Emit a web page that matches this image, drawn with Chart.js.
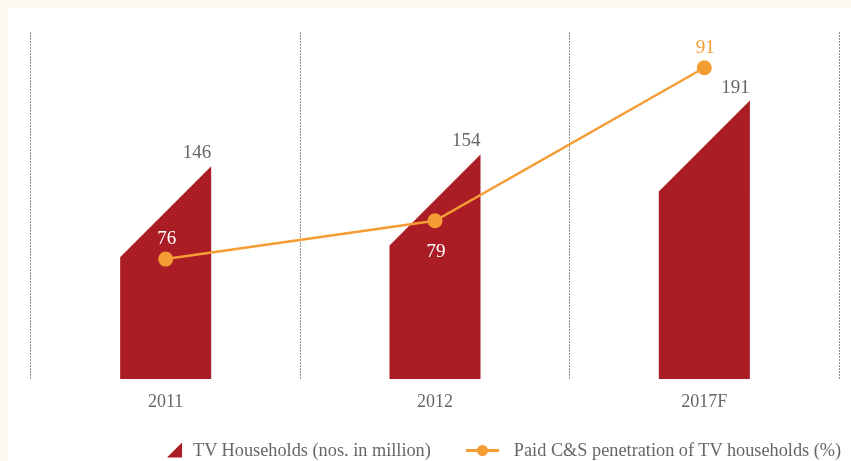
<!DOCTYPE html>
<html>
<head>
<meta charset="utf-8">
<script src="https://cdn.jsdelivr.net/npm/chart.js@4.4.0/dist/chart.umd.min.js"></script>
<style>
  html, body { margin: 0; padding: 0; }
  body { width: 851px; height: 461px; background: #fdf8f1; overflow: hidden; position: relative; font-family: 'Liberation Serif', serif; }
  #paper { position: absolute; left: 8px; top: 8px; right: 0; bottom: 0; background: #fff; }
  #wrap { position: absolute; left: 0; top: 0; width: 851px; height: 461px; }
  #legend { position: absolute; left: 167px; top: 439px; height: 22px; display: flex; align-items: center; font-size: 18.3px; color: #666; white-space: nowrap; }
  .item { display: flex; align-items: center; }
  .item + .item { margin-left: 35px; }
  .tri { width: 15px; height: 15px; margin-right: 11px; clip-path: polygon(100% 0, 100% 100%, 0 100%); }
  .lineIcon { position: relative; width: 33px; height: 14px; margin-right: 15px; }
  .lineIcon::before { content: ''; position: absolute; left: 0; right: 0; top: 6px; height: 2.5px; background: var(--c); }
  .lineIcon::after { content: ''; position: absolute; left: 11px; top: 1.5px; width: 11px; height: 11px; border-radius: 50%; background: var(--c); }
</style>
</head>
<body>
<div id="paper"></div>
<div id="wrap"><canvas id="chart"></canvas></div>
<div id="legend"></div>
<script>
const years = ['2011', '2012', '2017F'];
const tvHouseholds = [146, 154, 191];
const paidPenetration = [76, 79, 91];
const seriesNames = ['TV Households (nos. in million)', 'Paid C&S penetration of TV households (%)'];

const barRed = '#ab1d24';
const orange = '#f59d35';
const textGray = '#666';

// bars are drawn as slanted shapes (45° cut on the top-left corner)
const slantedBars = {
  id: 'slantedBars',
  afterDatasetDraw(chart, args) {
    if (args.meta.type !== 'bar') return;
    const ctx = chart.ctx;
    ctx.save();
    ctx.fillStyle = chart.data.datasets[args.index].shapeColor;
    args.meta.data.forEach(bar => {
      const left = bar.x - bar.width / 2;
      const right = bar.x + bar.width / 2;
      const cut = Math.min(bar.width, bar.base - bar.y);
      ctx.beginPath();
      ctx.moveTo(left, bar.base);
      ctx.lineTo(left, bar.y + cut);
      ctx.lineTo(right, bar.y);
      ctx.lineTo(right, bar.base);
      ctx.closePath();
      ctx.fill();
    });
    ctx.restore();
  }
};

const valueLabels = {
  id: 'valueLabels',
  afterDatasetsDraw(chart) {
    const ctx = chart.ctx;
    ctx.save();
    ctx.font = '19px "Liberation Serif"';
    ctx.textBaseline = 'alphabetic';
    chart.data.datasets.forEach((ds, i) => {
      const meta = chart.getDatasetMeta(i);
      meta.data.forEach((el, j) => {
        const text = String(ds.data[j]);
        if (meta.type === 'bar') {
          ctx.fillStyle = textGray;
          ctx.textAlign = 'right';
          ctx.fillText(text, el.x + el.width / 2, el.y - 8);
        } else {
          ctx.fillStyle = ds.labelColors[j];
          ctx.textAlign = 'center';
          const y = ds.labelSides[j] === 'below' ? el.y + 36 : el.y - 15;
          ctx.fillText(text, el.x + 1, y);
        }
      });
    });
    ctx.restore();
  }
};

const chart = new Chart(document.getElementById('chart').getContext('2d'), {
  type: 'bar',
  data: {
    labels: years,
    datasets: [
      {
        type: 'line',
        label: seriesNames[1],
        data: paidPenetration,
        yAxisID: 'y1',
        borderColor: orange,
        backgroundColor: orange,
        borderWidth: 2.5,
        pointRadius: 7.5,
        pointBorderWidth: 0,
        pointBackgroundColor: orange,
        tension: 0,
        order: 0,
        labelSides: ['above', 'below', 'above'],
        labelColors: ['#fff', '#fff', orange]
      },
      {
        type: 'bar',
        label: seriesNames[0],
        data: tvHouseholds,
        yAxisID: 'y',
        backgroundColor: 'rgba(0,0,0,0)',
        shapeColor: barRed,
        barPercentage: 0.338,
        categoryPercentage: 1,
        order: 1
      }
    ]
  },
  options: {
    responsive: true,
    maintainAspectRatio: false,
    animation: false,
    layout: { padding: { left: 31, right: 12, top: 32, bottom: 35 } },
    scales: {
      x: {
        offset: true,
        grid: { color: '#8f8f8f', lineWidth: 1, drawTicks: false, offset: true },
        border: { display: false, dash: [2, 1] },
        ticks: { color: textGray, padding: 12.7, font: { family: 'Liberation Serif', size: 18 } }
      },
      y: { display: false, min: 0, max: 238 },
      y1: { display: false, min: 66.6, max: 93.8 }
    },
    plugins: {
      legend: { display: false },
      tooltip: { enabled: false }
    }
  },
  plugins: [slantedBars, valueLabels]
});

// legend in html, built from the datasets
const legendEl = document.getElementById('legend');
[1, 0].forEach(i => {
  const ds = chart.data.datasets[i];
  const item = document.createElement('div');
  item.className = 'item';
  const icon = document.createElement('span');
  if (ds.type === 'bar') {
    icon.className = 'tri';
    icon.style.background = ds.shapeColor;
  } else {
    icon.className = 'lineIcon';
    icon.style.setProperty('--c', ds.borderColor);
  }
  const label = document.createElement('span');
  label.textContent = ds.label;
  item.appendChild(icon);
  item.appendChild(label);
  legendEl.appendChild(item);
});
</script>
</body>
</html>
